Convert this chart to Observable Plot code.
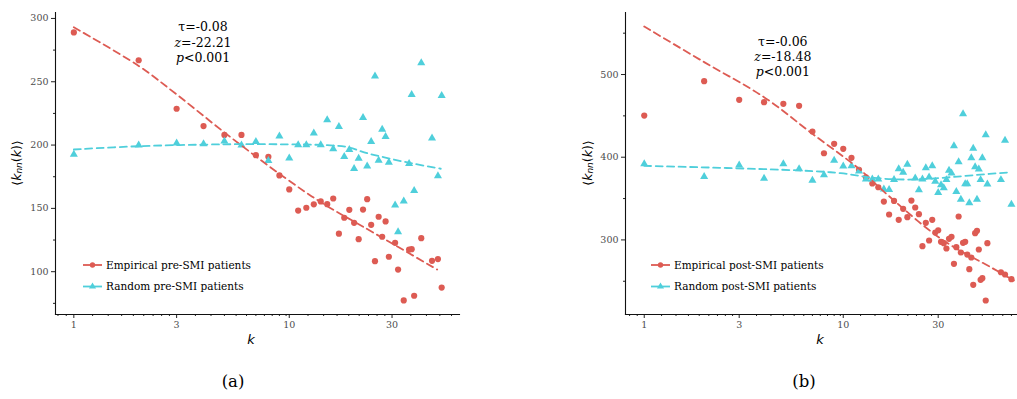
<!DOCTYPE html>
<html><head><meta charset="utf-8">
<script src="https://cdn.jsdelivr.net/npm/d3@7"></script>
<script src="https://cdn.jsdelivr.net/npm/@observablehq/plot@0.6"></script>
<style>
html,body{margin:0;padding:0;background:#fff;}
#wrap{position:relative;width:1017px;height:399px;overflow:hidden;font-family:"DejaVu Serif",serif;}
.panel{position:absolute;top:0;}
.cap{position:absolute;top:372px;font-size:16.5px;font-family:"DejaVu Serif",serif;color:#000;transform:translateX(-50%);}
</style></head><body><div id="wrap"></div>
<script>
// ---------- data ----------
const RED = "#dd5b53", CYAN = "#4fcfdb";
const SERIF = '"DejaVu Serif", serif', SANS = '"DejaVu Sans", sans-serif';

// (a) pre-SMI
const kPre = [1,2,3,4,5,6,7,8,9,10,11,12,13,14,15,16,17,18,19,20,21,22,23,24,25,26,27,28,29,31,32,34,36,37,38,41,46,49,51];
const empPre = [289,267,228.7,215,208,208,192,190.8,176,165,148.3,150.5,153.2,155.5,153.3,157.8,130,142.6,148.9,138.6,125.7,149.1,157.3,137,108.3,143.4,127.6,139.7,111.8,122.8,101.7,77.3,117.5,117.8,81,126.5,108.6,110,87.5];
const rndPre = [192.6,200,201.5,201,203,200,202.6,187.6,207,189.7,200.2,200.2,209.4,200.2,219.8,196.9,214.6,190.8,196.4,181.3,189.4,221.7,183.3,202.7,254.5,187.8,212.3,206.6,186.4,152.6,131.5,155.8,185.4,239.8,164,264.8,205.5,175.6,239.1];
const empTrendPreK = [1,2,3,5,9.4,14.4,22.2,48.6];
const empTrendPreV = [293,262.5,240,210,175,153.6,135.2,101.7];
const rndTrendPreK = [1,2,5,9.4,15,18.6,23,29.5,38,50.5];
const rndTrendPreV = [196.5,199.1,200.6,200.6,199.9,198.4,193.6,189.2,185.2,181.3];

// (b) post-SMI
const kPost = [1,2,3,4,5,6,7,8,9,10,11,12,13,14,15,16,17,18,19,20,21,22,23,24,25,26,27,28,29,30,31,32,33,34,35,36,37,38,39,40,41,42,43,44,45,46,47,48,49,50,52,53,62,65,70];
const empPost = [450.4,491.9,469.4,466.5,464.6,462.1,431.1,404.8,416.2,410.2,399.3,384.8,375.8,368.2,363.7,346.4,330.7,347.2,324.3,337.6,327.5,347.6,339.2,331.1,292.4,320.7,299.3,324.3,308.9,311.7,297.7,296,289.6,301.3,303.8,271.1,291.2,328.3,284.8,296.5,297.7,282.3,264.6,278.7,245.7,308.1,311,288.4,251.7,253.7,226.7,296,260.9,258.2,252.5];
const rndPost = [392,376.5,390.4,374.3,392,386,371.8,378.7,396,389.1,389.6,383,373.4,373.4,373.4,361.3,360.9,373,386,381.5,391.2,null,374.6,360.6,373.4,387.2,375.8,389.6,370.6,357,366.6,363,372.7,383.9,380.7,413.8,358.2,394.4,348.9,452.5,367.8,367.8,344.8,399.3,410.5,388.4,348.9,385.5,372.7,399.3,427.1,367.4,372.7,420.2,343];
const empTrendPostK = [1,2,4,7,12,16.6,31,57,72];
const empTrendPostV = [558,515,472.6,428.3,386,355,301.3,265,250.9];
const rndTrendPostK = [1,6,9.7,14.3,21,31,45,70];
const rndTrendPostV = [389.6,384,380.7,375,373,375,378.2,381.9];

// axes
const xTicks = [1,3,10,30];
const xMinor = [0.844,0.922,1.222,1.444,1.667,1.889,2.111,2.333,2.556,2.778,3.667,4.333,5,5.667,6.333,7,7.667,8.333,9,9.667,12.22,14.44,16.67,18.89,21.11,23.33,25.56,27.78,36.67,43.33,50,56.67,63.33,70];
const yTicksPre = [100,150,200,250,300], yMinorPre = [75,125,175,225,275];
const yTicksPost = [300,400,500], yMinorPost = [250,350,450,550];

// stats annotations (k, value of each line centre)
const statsPre = {k: 4, v: [292.9,280.8,268.9], lines: [["τ","=-0.08"],["z","=-22.21"],["p","<0.001"]]};
const statsPost = {k: 5, v: [539.5,521.4,503.3], lines: [["τ","=-0.06"],["z","=-18.48"],["p","<0.001"]]};
const legendPre = ["Empirical pre-SMI patients","Random pre-SMI patients"];
const legendPost = ["Empirical post-SMI patients","Random post-SMI patients"];

// ---------- drawing ----------
function zip(ks, vs){ return ks.map((k,i)=>({k, v: vs[i]})).filter(d=>d.v!=null); }

function panel(o){
  const plot = Plot.plot({
    width: o.width, height: 350,
    marginLeft: o.mL, marginRight: o.mR, marginTop: 12, marginBottom: 36,
    style: {fontFamily: SERIF, fontSize: "9.5px", background: "transparent", overflow: "visible"},
    x: {type: "log", domain: o.xDomain},
    y: {domain: o.yDomain},
    marks: [
      Plot.axisY({ticks: o.yTicks, tickSize: 4, tickPadding: 3, fill: "#4d4d4d", stroke: "#222", label: null, tickFormat: d => String(d)}),
      Plot.axisY({ticks: o.yMinor, tickSize: 2, stroke: "#222", tickFormat: () => "", label: null}),
      Plot.axisX({ticks: xTicks, tickSize: 4, tickPadding: 3, fill: "#4d4d4d", stroke: "#222", label: null, tickFormat: d => String(d)}),
      Plot.axisX({ticks: xMinor.filter(t => t >= o.xDomain[0] && t <= o.xDomain[1]), tickSize: 2, stroke: "#222", tickFormat: () => "", label: null}),
      Plot.frame({anchor: "left", stroke: "#111", strokeWidth: 1.1}),
      Plot.frame({anchor: "bottom", stroke: "#111", strokeWidth: 1.1}),
      Plot.dot(o.emp, {x: "k", y: "v", r: 3.1, fill: RED, stroke: "none", symbol: "circle"}),
      Plot.dot(o.rnd, {x: "k", y: "v", r: 3, fill: CYAN, stroke: "none", symbol: "triangle"}),
      Plot.line(o.empTrend, {x: "k", y: "v", stroke: RED, strokeWidth: 1.8, strokeDasharray: "7,4.5", curve: "catmull-rom"}),
      Plot.line(o.rndTrend, {x: "k", y: "v", stroke: CYAN, strokeWidth: 1.8, strokeDasharray: "7,4.5", curve: "catmull-rom"})
    ]
  });
  const svg = d3.select(plot);
  const sx = plot.scale("x"), sy = plot.scale("y");
  // y label
  const yl = svg.append("text")
    .attr("transform", `translate(${o.yLabelX},163) rotate(-90)`)
    .attr("text-anchor", "middle").attr("dominant-baseline", "middle")
    .style("font-family", SANS).style("font-size", "12.5px").attr("fill", "#000");
  yl.append("tspan").text("⟨");
  yl.append("tspan").attr("font-style", "italic").text("k");
  yl.append("tspan").attr("font-style", "italic").attr("font-size", "9px").attr("dy", "2").text("nn");
  yl.append("tspan").attr("dy", "-2").text("(");
  yl.append("tspan").attr("font-style", "italic").text("k");
  yl.append("tspan").text(")⟩");
  // x label
  svg.append("text").attr("x", o.xLabelX).attr("y", 344).attr("text-anchor", "middle")
    .style("font-family", SANS).style("font-size", "13px").attr("font-style", "italic").attr("fill", "#000").text("k");
  // stats
  o.stats.lines.forEach((ln, i) => {
    const t = svg.append("text").attr("x", sx.apply(o.stats.k)).attr("y", sy.apply(o.stats.v[i]))
      .attr("text-anchor", "middle").attr("dy", "0.35em")
      .style("font-family", SERIF).style("font-size", "12.5px").attr("fill", "#000");
    t.append("tspan").attr("font-style", ln[0] === "τ" ? "normal" : "italic").text(ln[0]);
    t.append("tspan").text(ln[1]);
  });
  // legend
  const lg = svg.append("g").style("font-family", SERIF).style("font-size", "10.5px");
  [[RED, "circle", o.legend[0], 265], [CYAN, "triangle", o.legend[1], 286.5]].forEach(([c, sym, label, y]) => {
    const x0 = o.legendX;
    lg.append("line").attr("x1", x0).attr("x2", x0 + 19).attr("y1", y).attr("y2", y).attr("stroke", c).attr("stroke-width", 1.8);
    lg.append("path").attr("transform", `translate(${x0 + 9.5},${y})`)
      .attr("d", d3.symbol(sym === "circle" ? d3.symbolCircle : d3.symbolTriangle, 22)())
      .attr("fill", c);
    lg.append("text").attr("x", x0 + 23).attr("y", y).attr("dy", "0.35em")
      .attr("text-anchor", "start").style("text-anchor", "start").attr("fill", "#000").text(label);
  });
  return plot;
}

const wrap = document.getElementById("wrap");
const pA = panel({
  width: 508, mL: 55, mR: 49, xDomain: [0.822, 61.7], yDomain: [66.2, 304.7],
  yTicks: yTicksPre, yMinor: yMinorPre,
  emp: zip(kPre, empPre), rnd: zip(kPre, rndPre),
  empTrend: zip(empTrendPreK, empTrendPreV), rndTrend: zip(rndTrendPreK, rndTrendPreV),
  stats: statsPre, legend: legendPre, legendX: 83, yLabelX: 17, xLabelX: 251
});
const pB = panel({
  width: 509, mL: 117, mR: 0, xDomain: [0.805, 75.1], yDomain: [209.8, 575],
  yTicks: yTicksPost, yMinor: yMinorPost,
  emp: zip(kPost, empPost), rnd: zip(kPost, rndPost),
  empTrend: zip(empTrendPostK, empTrendPostV), rndTrend: zip(rndTrendPostK, rndTrendPostV),
  stats: statsPost, legend: legendPost, legendX: 651 - 508, yLabelX: 588 - 508, xLabelX: 820 - 508
});
const dA = document.createElement("div"); dA.className = "panel"; dA.style.left = "0px"; dA.appendChild(pA);
const dB = document.createElement("div"); dB.className = "panel"; dB.style.left = "508px"; dB.appendChild(pB);
wrap.appendChild(dA); wrap.appendChild(dB);
const cA = document.createElement("div"); cA.className = "cap"; cA.style.left = "233px"; cA.textContent = "(a)";
const cB = document.createElement("div"); cB.className = "cap"; cB.style.left = "804px"; cB.textContent = "(b)";
wrap.appendChild(cA); wrap.appendChild(cB);
</script>
</body></html>
